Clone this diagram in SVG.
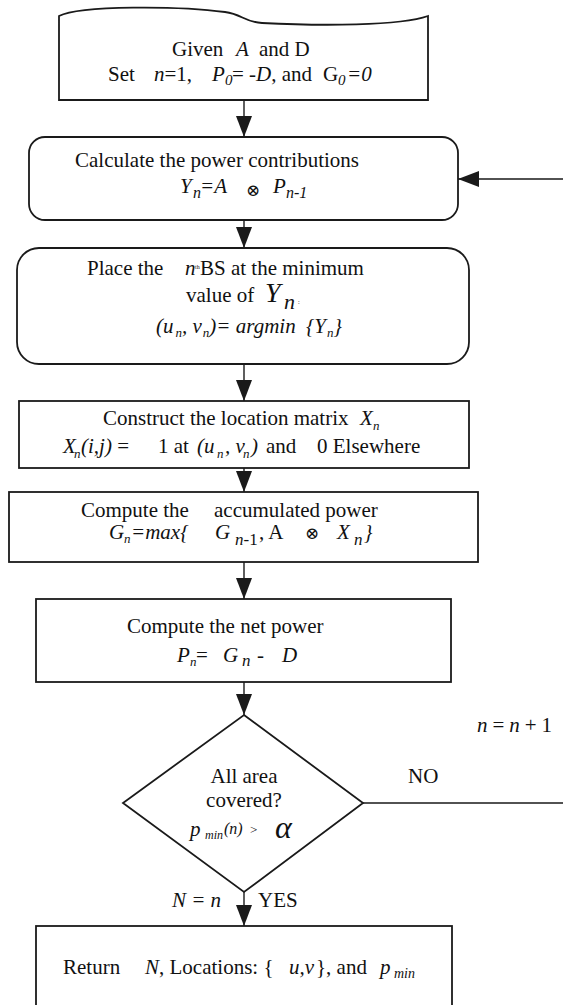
<svg xmlns="http://www.w3.org/2000/svg" width="563" height="1005" viewBox="0 0 563 1005">
<style>
text{font-family:"Liberation Serif","Times New Roman",serif;font-size:21px;fill:#111}
.i{font-style:italic}
.box{fill:#fff;stroke:#1a1a1a;stroke-width:1.8}
.ln{fill:none;stroke:#1a1a1a;stroke-width:1.4}
.op{font-family:"DejaVu Serif",serif;font-size:17px}
</style>
<defs>
<marker id="ah" markerUnits="userSpaceOnUse" markerWidth="22" markerHeight="16" refX="21" refY="8" orient="auto">
<path d="M0,0 L21,8 L0,16 Z" fill="#1a1a1a"/>
</marker>
</defs>
<rect width="563" height="1005" fill="#fff"/>
<g id="connectors">
<line class="ln" x1="244" y1="100" x2="244" y2="137" marker-end="url(#ah)"/>
<line class="ln" x1="244" y1="220" x2="244" y2="248" marker-end="url(#ah)"/>
<line class="ln" x1="244" y1="364" x2="244" y2="401" marker-end="url(#ah)"/>
<line class="ln" x1="244" y1="468" x2="244" y2="492" marker-end="url(#ah)"/>
<line class="ln" x1="244" y1="562" x2="244" y2="599" marker-end="url(#ah)"/>
<line class="ln" x1="244" y1="682" x2="244" y2="715" marker-end="url(#ah)"/>
<line class="ln" x1="244" y1="892" x2="244" y2="926" marker-end="url(#ah)"/>
<path class="ln" d="M363,803 H580 V179 H458" marker-end="url(#ah)"/>
</g>
<g id="start">
<path class="box" d="M59,16 C80,5 180,6 225,12 C242,14 244,22 262,23 C320,26 400,26 428,16 L428,100 L59,100 Z"/>
<text y="56"><tspan x="172">Given</tspan><tspan x="236" class="i">A</tspan><tspan x="259">and D</tspan></text>
<text y="81"><tspan x="108">Set</tspan><tspan x="154" class="i">n</tspan><tspan>=1,</tspan><tspan x="212" class="i">P</tspan><tspan x="225" y="85" class="i" font-size="15">0</tspan><tspan x="232" y="81">=</tspan><tspan class="i"> -D</tspan><tspan>, and</tspan><tspan x="323">G</tspan><tspan x="338" y="85" class="i" font-size="15">0</tspan><tspan x="347" y="81" class="i">=0</tspan></text>
</g>
<g id="calc">
<rect class="box" x="29" y="137" width="429" height="83" rx="16"/>
<text x="75" y="167">Calculate the power contributions</text>
<text y="193"><tspan x="180" class="i">Y</tspan><tspan x="193" y="198" class="i" font-size="16">n</tspan><tspan x="200" y="193" class="i">=A</tspan><tspan x="246" y="196" class="op">⊗</tspan><tspan x="273" y="193" class="i">P</tspan><tspan x="286" y="198" class="i" font-size="16">n-1</tspan></text>
</g>
<g id="place">
<rect class="box" x="17" y="248" width="452" height="116" rx="22"/>
<text y="275"><tspan x="87">Place the</tspan><tspan x="185" class="i">n</tspan><tspan x="195" y="269" font-size="6">th</tspan><tspan x="200" y="275">BS at the minimum</tspan></text>
<text y="302"><tspan x="186">value of</tspan><tspan x="265" class="i" font-size="28">Y</tspan><tspan x="284" y="309" class="i" font-size="22">n</tspan><tspan x="298" y="304" font-size="6">:</tspan></text>
<text x="156" y="333" class="i" font-size="17">(u<tspan dx="2" dy="4" font-size="13">n</tspan><tspan dy="-4">, v</tspan><tspan dx="1" dy="4" font-size="13">n</tspan><tspan dy="-4">)= argmin </tspan><tspan dx="5">{Y</tspan><tspan dx="1" dy="4" font-size="13">n</tspan><tspan dy="-4">}</tspan></text>
</g>
<g id="construct">
<rect class="box" x="19" y="401" width="450" height="67"/>
<text y="425" font-size="17.5"><tspan x="103">Construct the location matrix</tspan><tspan x="360" class="i">X</tspan><tspan x="373" y="430" class="i" font-size="13">n</tspan></text>
<text y="453" font-size="17.5"><tspan x="63" class="i">X</tspan><tspan x="74" y="458" class="i" font-size="13">n</tspan><tspan x="81" y="453" class="i">(i,j)</tspan><tspan> =</tspan><tspan x="158">1 at</tspan><tspan x="197" class="i">(u</tspan><tspan x="217" y="458" class="i" font-size="13">n</tspan><tspan x="225" y="453" class="i">, v</tspan><tspan x="243" y="458" class="i" font-size="13">n</tspan><tspan x="251" y="453" class="i">)</tspan><tspan x="266">and</tspan><tspan x="317">0 Elsewhere</tspan></text>
</g>
<g id="accum">
<rect class="box" x="9" y="492" width="469" height="70"/>
<text y="517"><tspan x="81">Compute the</tspan><tspan x="214">accumulated power</tspan></text>
<text y="539"><tspan x="109" class="i">G</tspan><tspan x="124" y="543" class="i" font-size="13">n</tspan><tspan x="131" y="539" class="i">=max{</tspan><tspan x="215" class="i">G</tspan><tspan x="235" y="545" font-size="17"><tspan class="i">n</tspan>-1</tspan><tspan x="259" y="539">, A</tspan><tspan x="305" y="539" class="op">⊗</tspan><tspan x="337" y="539" class="i">X</tspan><tspan x="354" y="545" class="i" font-size="17">n</tspan><tspan x="364" y="539" class="i">}</tspan></text>
</g>
<g id="net">
<rect class="box" x="36" y="599" width="415" height="83"/>
<text x="127" y="633">Compute the net power</text>
<text y="662"><tspan x="177" class="i">P</tspan><tspan x="190" y="666" class="i" font-size="13">n</tspan><tspan x="196" y="662">=</tspan><tspan x="223" class="i">G</tspan><tspan x="242" y="666" class="i" font-size="17">n</tspan><tspan x="257" y="662">-</tspan><tspan x="282" class="i">D</tspan></text>
</g>
<g id="decision">
<path class="box" d="M244,715 L363,803 L244,892 L123,803 Z" stroke-width="1.5"/>
<text x="244" y="783" text-anchor="middle" font-size="20">All area</text>
<text x="244" y="807" text-anchor="middle" font-size="20">covered?</text>
<text y="836"><tspan x="190" class="i">p</tspan><tspan x="205" y="839" class="i" font-size="12">min</tspan><tspan x="224" y="834" class="i" font-size="16">(n)</tspan><tspan x="250" y="834" font-size="13">&gt;</tspan><tspan x="275" y="838" class="i" font-size="32">α</tspan></text>
</g>
<g id="labels">
<text x="408" y="783">NO</text>
<text y="732" x="477" textLength="75"><tspan class="i">n</tspan><tspan>=</tspan><tspan class="i">n</tspan><tspan>+1</tspan></text>
<text x="172" y="907" class="i" font-size="22" textLength="49">N=n</text>
<text x="258" y="907">YES</text>
</g>
<g id="return">
<rect class="box" x="36" y="926" width="416" height="90"/>
<text y="974"><tspan x="63">Return</tspan><tspan x="145" class="i">N</tspan><tspan>, Locations: {</tspan><tspan x="289" class="i">u,v</tspan><tspan x="316">}, and</tspan><tspan x="380" class="i">p</tspan><tspan x="394" y="978" class="i" font-size="14">min</tspan></text>
</g>
</svg>
